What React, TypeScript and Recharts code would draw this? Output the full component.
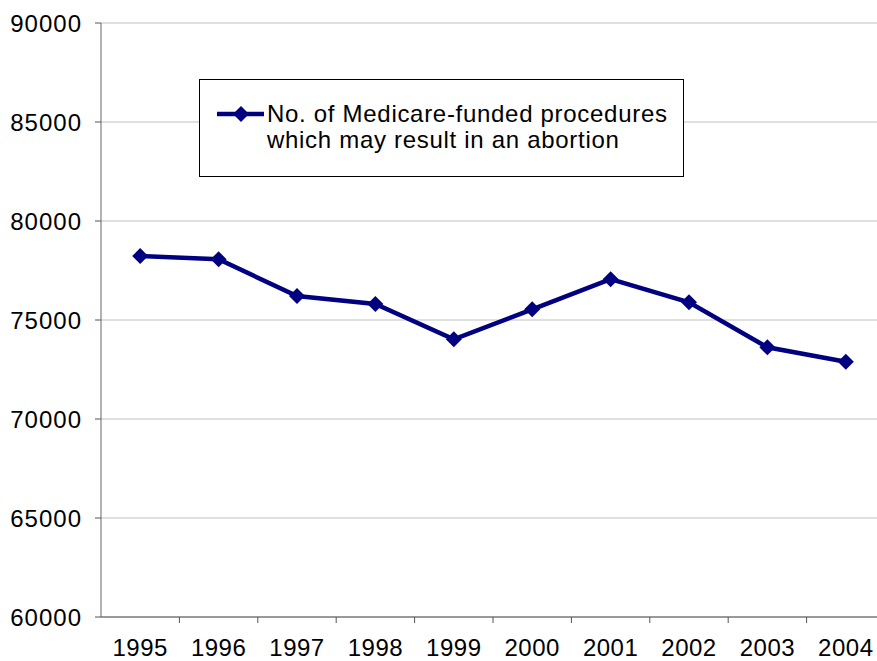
import React from "react";
import {
  LineChart,
  Line,
  XAxis,
  YAxis,
  CartesianGrid,
} from "recharts";

const years = ["1995", "1996", "1997", "1998", "1999", "2000", "2001", "2002", "2003", "2004"];
const procedures = [78230, 78065, 76210, 75810, 74025, 75540, 77060, 75895, 73620, 72895];
const yTicks = [60000, 65000, 70000, 75000, 80000, 85000, 90000];
const seriesName = ["No. of Medicare-funded procedures", "which may result in an abortion"];

const NAVY = "#000080";
const FONT = "'Liberation Sans', Arial, sans-serif";

// each year sits in the middle of its slot, slot edges get the tick marks
const data = years.map((year, i) => ({ year, pos: i + 0.5, value: procedures[i] }));
const slotEdges = years.map((_, i) => i + 1);
const slotMiddles = years.map((_, i) => i + 0.5);

const Diamond = (props: any) => {
  const { cx, cy } = props;
  if (cx == null || cy == null) return null;
  const r = 8;
  return (
    <path
      d={`M${cx},${cy - r} L${cx + r},${cy} L${cx},${cy + r} L${cx - r},${cy} Z`}
      fill={NAVY}
      stroke="none"
    />
  );
};

const LegendBox = () => (
  <div
    style={{
      position: "absolute",
      left: 199,
      top: 79,
      width: 483,
      height: 96,
      border: "1px solid #000",
      background: "#fff",
      fontFamily: FONT,
      fontSize: 24,
      color: "#000",
    }}
  >
    <svg width={50} height={20} style={{ position: "absolute", left: 16, top: 24 }}>
      <line x1={1} y1={10} x2={48} y2={10} stroke={NAVY} strokeWidth={4.5} />
      <Diamond cx={25} cy={10} />
    </svg>
    <div
      style={{
        position: "absolute",
        left: 67,
        top: 21,
        lineHeight: "26px",
        letterSpacing: 0.7,
        whiteSpace: "nowrap",
      }}
    >
      {seriesName[0]}
      <br />
      {seriesName[1]}
    </div>
  </div>
);

export default function App() {
  return (
    <div
      style={{
        position: "absolute",
        left: 0,
        top: 0,
        width: 877,
        height: 661,
        overflow: "hidden",
        background: "#fff",
      }}
    >
      <LineChart
        width={892}
        height={661}
        data={data}
        margin={{ top: 23, right: 7, left: 0, bottom: 0 }}
        style={{ fontFamily: FONT }}
      >
        <CartesianGrid vertical={false} stroke="#c0c0c0" />
        <XAxis
          type="number"
          dataKey="pos"
          domain={[0, 10]}
          ticks={slotEdges}
          tickFormatter={() => ""}
          height={8}
          tickSize={6}
          axisLine={{ stroke: "#555" }}
          tickLine={{ stroke: "#555" }}
        />
        <XAxis
          xAxisId="labels"
          type="number"
          dataKey="pos"
          domain={[0, 10]}
          ticks={slotMiddles}
          tickFormatter={(v: number) => years[Math.floor(v)]}
          height={36}
          tickSize={0}
          tickMargin={14}
          axisLine={false}
          tickLine={false}
          tick={{ fill: "#000", fontSize: 24, letterSpacing: 0.5 }}
          interval={0}
        />
        <YAxis
          domain={[60000, 90000]}
          ticks={yTicks}
          width={101}
          tickSize={6}
          tickMargin={13}
          axisLine={{ stroke: "#666" }}
          tickLine={{ stroke: "#555" }}
          tick={{ fill: "#000", fontSize: 24, letterSpacing: 1 }}
          interval={0}
        />
        <Line
          type="linear"
          dataKey="value"
          name={seriesName.join(" ")}
          stroke={NAVY}
          strokeWidth={4.5}
          dot={<Diamond />}
          activeDot={false}
          isAnimationActive={false}
        />
      </LineChart>
      <LegendBox />
    </div>
  );
}
